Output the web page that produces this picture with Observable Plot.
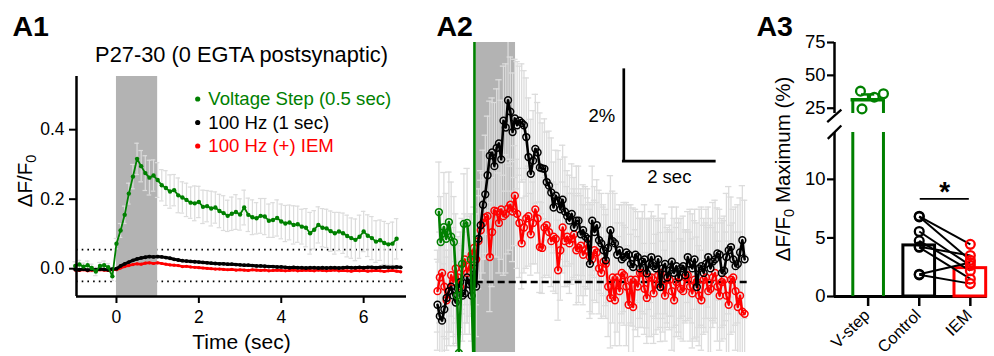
<!DOCTYPE html>
<html><head><meta charset="utf-8">
<script src="https://cdn.jsdelivr.net/npm/d3@7"></script>
<script src="https://cdn.jsdelivr.net/npm/@observablehq/plot@0.6"></script>
<style>
body{margin:0;background:#fff;}
#fig{position:relative;width:994px;height:356px;overflow:hidden;font-family:"Liberation Sans",Arial,Helvetica,sans-serif;}
#fig > div.p{position:absolute;top:0;}
#overlay{position:absolute;left:0;top:0;pointer-events:none;}
</style></head><body>
<div id="fig"><div class="p" id="a1" style="left:0px"></div><div class="p" id="a2" style="left:420px"></div><div class="p" id="a3" style="left:750px"></div><svg id="overlay" width="994" height="356"></svg></div>
<script>
const FONT = '"Liberation Sans", Arial, Helvetica, sans-serif';
const GREEN = "#008000", RED = "#ff0000", BLACK = "#000000", ERR = "#dcdcdc", STIM = "#b3b3b3";

// ---------------- A1 data (ΔF/F0 vs time, sampled every 0.1 s from -1.0 s) ----------------
const a1Start = -1.0, a1Step = 0.1;
const a1Green = [0.008,0.012,0.006,0.010,0.002,-0.008,0.008,0.010,0.004,-0.022,
  0.072,0.110,0.155,0.216,0.265,0.316,0.295,0.275,0.262,0.268,
  0.255,0.240,0.232,0.222,0.226,0.211,0.205,0.198,0.190,0.188,
  0.192,0.178,0.180,0.173,0.176,0.166,0.160,0.152,0.158,0.163,
  0.156,0.176,0.155,0.148,0.145,0.152,0.150,0.138,0.140,0.146,
  0.136,0.130,0.133,0.126,0.128,0.121,0.118,0.102,0.112,0.126,
  0.118,0.116,0.108,0.102,0.107,0.102,0.094,0.088,0.083,0.092,
  0.107,0.095,0.088,0.078,0.082,0.074,0.070,0.072,0.086];
const a1GreenErr = [0.012,0.012,0.010,0.012,0.011,0.012,0.010,0.012,0.011,0.012,
  0.015,0.020,0.025,0.030,0.035,0.045,0.045,0.050,0.050,0.045,
  0.050,0.045,0.050,0.048,0.045,0.050,0.045,0.048,0.045,0.050,
  0.045,0.048,0.045,0.050,0.045,0.048,0.050,0.045,0.048,0.050,
  0.045,0.050,0.048,0.050,0.045,0.050,0.052,0.048,0.050,0.052,
  0.050,0.052,0.050,0.055,0.052,0.050,0.055,0.060,0.055,0.052,
  0.055,0.055,0.058,0.060,0.055,0.058,0.060,0.058,0.060,0.062,
  0.058,0.060,0.062,0.060,0.058,0.062,0.060,0.062,0.058];
const a1Black = [-0.002,-0.003,-0.001,-0.004,-0.002,-0.003,-0.001,-0.002,-0.003,-0.001,
  0.000,0.008,0.014,0.019,0.024,0.028,0.031,0.033,0.035,0.034,0.035,
  0.034,0.032,0.030,0.027,0.025,0.023,0.022,0.021,0.020,0.019,
  0.018,0.017,0.016,0.015,0.014,0.014,0.013,0.013,0.012,0.011,
  0.010,0.010,0.009,0.008,0.008,0.007,0.006,0.006,0.005,0.005,
  0.004,0.003,0.004,0.003,0.003,0.002,0.003,0.003,0.002,0.003,
  0.002,0.003,0.003,0.002,0.003,0.004,0.003,0.003,0.004,0.003,
  0.004,0.004,0.003,0.004,0.005,0.004,0.004,0.005,0.004];
const a1Red = [-0.004,-0.005,-0.003,-0.006,-0.004,-0.005,-0.003,-0.004,-0.005,-0.003,
  -0.003,0.002,0.006,0.009,0.012,0.014,0.013,0.016,0.017,0.015,0.017,
  0.015,0.013,0.011,0.010,0.009,0.006,0.007,0.005,0.004,0.003,
  0.002,0.001,0.000,-0.001,-0.001,-0.002,-0.003,-0.002,-0.004,-0.003,
  -0.004,-0.005,-0.003,-0.004,-0.005,-0.004,-0.006,-0.005,-0.004,-0.005,
  -0.006,-0.005,-0.004,-0.006,-0.005,-0.004,-0.005,-0.006,-0.004,-0.005,
  -0.006,-0.005,-0.004,-0.006,-0.005,-0.006,-0.007,-0.005,-0.006,-0.005,
  -0.007,-0.006,-0.005,-0.006,-0.008,-0.006,-0.005,-0.007,-0.009];
const a1Stim = [0, 1];
const a1Dotted = [0.055, -0.0366];
const a1XTicks = [0, 2, 4, 6];
const a1YTicks = [0, 0.2, 0.4];
const a1Title = "P27-30 (0 EGTA postsynaptic)";
const a1XLabel = "Time (sec)";
const a1Legend = ["Voltage Step (0.5 sec)", "100 Hz (1 sec)", "100 Hz (+) IEM"];
const a1LegendColors = [GREEN, BLACK, RED];

// ---------------- A2 data (% ΔF/F0, every 0.05 s from -0.85 s) ----------------
const a2Start = -0.85, a2Step = 0.05;
const a2Black = [
  -0.5,-0.75,-0.85,-0.6,-0.35,-0.2,-0.1,-0.3,-0.45,-0.15,0.0,-0.3,-0.25,0.1,-0.05,-0.3,0.3,-0.1,
  0.95,1.25,1.7,1.93,2.35,2.78,2.85,2.55,2.95,3.05,2.7,3.55,3.4,4.0,3.75,3.3,3.6,3.45,3.55,3.5,
  3.45,3.19,2.75,2.38,2.67,2.93,2.85,2.52,2.5,2.49,2.2,2.12,1.97,1.64,1.9,1.79,1.6,1.81,1.55,1.45,
  1.35,1.5,1.2,1.35,1.35,1.05,1.14,1.0,0.95,0.4,1.35,1.1,1.25,0.92,0.85,0.7,0.48,0.75,1.14,0.9,
  0.85,0.6,0.7,0.5,0.55,0.65,0.6,0.4,0.33,0.6,0.55,0.3,0.45,0.5,0.19,0.4,0.55,0.35,0.3,0.5,
  -0.11,0.3,0.4,0.1,0.25,0.45,0.2,0.35,0.1,0.3,0.35,0.15,0.55,0.4,0.3,0.5,-0.11,0.3,0.35,0.2,
  0.4,0.55,0.3,0.45,0.5,0.63,0.6,0.2,0.25,0.55,0.7,0.77,0.5,0.35,0.4,0.65,0.92,0.5];
const a2BlackErr = [
  1.0,0.9,1.1,1.0,0.9,1.2,1.0,1.1,0.9,1.0,1.1,1.0,0.9,1.0,1.1,1.0,1.0,1.1,
  1.1,1.2,1.2,1.3,1.3,1.2,1.2,1.4,1.3,1.4,1.3,1.2,1.4,1.3,1.2,1.3,1.3,1.4,1.2,1.3,
  1.2,1.3,1.3,1.2,1.1,1.2,1.1,1.2,1.0,1.1,1.1,1.2,1.2,1.0,1.0,1.1,1.1,1.2,1.2,1.0,
  1.0,1.1,1.1,1.2,1.2,1.0,1.0,1.1,1.1,1.2,1.2,1.0,1.0,1.1,1.1,1.0,1.0,1.2,1.2,1.1,
  1.1,1.0,1.0,1.2,1.2,1.1,1.1,1.3,1.3,1.0,1.0,1.1,1.1,1.2,1.2,1.0,1.0,1.1,1.1,1.2,
  1.2,1.1,1.1,1.0,1.0,1.2,1.2,1.3,1.3,1.1,1.1,1.0,1.0,1.2,1.2,1.1,1.1,1.3,1.3,1.2,
  1.2,1.1,1.1,1.3,1.3,1.0,1.0,1.2,1.2,1.4,1.4,1.1,1.1,1.3,1.3,1.2,1.2,1.3];
const a2Red = [
  -0.2,0.1,0.2,-0.1,-0.4,-0.2,0.15,0.0,0.3,0.1,-0.1,0.3,0.5,0.2,0.35,0.6,0.75,0.5,
  0.9,1.14,1.3,1.42,1.45,0.55,1.1,1.57,1.55,1.3,1.6,1.45,1.5,1.62,1.7,1.55,1.9,1.5,1.3,0.85,
  1.2,1.4,1.45,1.05,1.3,1.6,1.4,0.77,0.75,1.2,1.25,1.1,0.9,1.0,0.95,0.26,0.7,1.2,0.9,1.0,
  0.85,0.95,1.05,0.7,0.75,0.8,0.6,0.7,0.85,0.55,0.5,0.7,0.65,0.3,0.2,0.45,0.4,-0.1,-0.35,0.1,
  -0.4,0.1,-0.2,0.2,0.15,-0.1,-0.5,0.05,-0.55,0.05,-0.1,0.2,0.2,-0.15,-0.35,0.1,0.1,-0.25,-0.05,0.15,
  0.2,-0.1,-0.3,0.1,0.05,-0.2,-0.4,0.0,0.1,-0.15,-0.2,0.1,0.15,-0.1,-0.25,0.05,0.0,-0.3,-0.4,0.05,
  0.1,-0.2,-0.15,0.1,0.2,-0.1,-0.3,0.0,0.05,-0.3,-0.5,0.05,0.1,-0.2,-0.55,-0.3,-0.65,-0.7];
const a2RedErr = [
  0.9,1.0,1.0,1.1,1.1,0.9,0.9,1.2,1.2,0.9,0.9,1.0,1.0,1.1,1.1,0.9,0.9,1.0,
  1.0,1.1,1.1,0.9,0.9,1.2,1.2,1.0,1.0,1.1,1.1,1.3,1.3,1.0,1.0,1.1,1.1,1.2,1.2,1.0,
  1.0,1.1,1.1,0.9,0.9,1.2,1.2,1.0,1.0,1.1,1.1,1.0,1.0,1.2,1.2,1.1,1.1,1.0,1.0,1.1,
  1.1,1.0,1.0,1.2,1.2,1.1,1.1,1.0,1.0,1.2,1.2,1.1,1.1,1.0,1.0,1.2,1.2,1.1,1.1,1.0,
  1.0,1.2,1.2,1.1,1.1,1.3,1.3,1.0,1.0,1.1,1.1,1.2,1.2,1.0,1.0,1.3,1.3,1.1,1.1,1.2,
  1.2,1.0,1.0,1.1,1.1,1.3,1.3,1.2,1.2,1.1,1.1,1.0,1.0,1.2,1.2,1.3,1.3,1.1,1.1,1.2,
  1.2,1.4,1.4,1.1,1.1,1.2,1.2,1.3,1.3,1.4,1.4,1.2,1.2,1.3,1.3,1.4,1.4,1.3];
const a2GreenT = [-0.82,-0.78,-0.71,-0.66,-0.60,-0.55,-0.49,-0.42,-0.38,-0.31,-0.27,-0.20,-0.12,-0.04,-0.03];
const a2GreenV = [1.54,0.88,1.21,0.95,1.32,1.0,0.88,-0.3,-1.56,0.4,1.28,1.3,0.5,-2.5,30];
const a2GreenErr = [1.1,1.0,1.2,1.0,1.1,1.2,1.0,1.1,1.2,1.0,1.1,1.2,1.0,0,0];
const a2Stim = [0, 0.865];
const a2ScaleY = 2, a2ScaleX = 2;          // 2 %, 2 sec
const a2ScaleLabels = ["2%", "2 sec"];

// ---------------- A3 data (ΔF/F0 maximum, %) ----------------
const a3Cats = ["V-step", "Control", "IEM"];
const a3Means = [31.5, 4.36, 2.42];
const a3VStep = [38.0, 24.5, 33.4, 36.0];
const a3VStepErrTop = 35.5;
const a3Control = [6.85, 6.8, 5.55, 4.75, 4.25, 4.2, 1.9, 1.85];
const a3IEM = [4.45, 3.1, 2.65, 2.2, 3.5, 1.5, 2.9, 1.1];
const a3Ticks = [0, 5, 10, 25, 50, 75];
const a3Sig = "*";
const a3SigLevel = 8.34;
const yLabMain = "ΔF/F", yLabSub = "0", a3YLabelRest = " Maximum (%)";

// =============== build ===============
const r3 = v => Math.round(v * 1000) / 1000;
const series = (arr, start, step, err) => arr.map((v, i) => ({t: r3(start + i * step), v, e: err ? err[i] : 0}));

// ---------- A1 ----------
const g1 = series(a1Green, a1Start, a1Step, a1GreenErr);
const k1 = series(a1Black, a1Start, a1Step);
const r1 = series(a1Red, a1Start, a1Step);
const X1 = [-0.97, 7.04], Y1 = [-0.08, 0.553];
const cap1 = 0.055;
const p1 = Plot.plot({
  width: 420, height: 356, marginLeft: 76, marginRight: 14, marginTop: 76, marginBottom: 60,
  x: {domain: X1, label: null},
  y: {domain: Y1, label: null},
  style: {fontFamily: FONT, fontSize: "17px", color: "#000", background: "transparent", overflow: "visible"},
  marks: [
    Plot.ruleY(a1Dotted, {stroke: BLACK, strokeWidth: 1.8, strokeDasharray: "1.6,4.1"}),
    Plot.rect([a1Stim], {x1: d => d[0], x2: d => d[1], y1: () => Y1[0], y2: () => Y1[1], fill: STIM}),
    Plot.ruleX(g1, {x: "t", y1: d => d.v - d.e, y2: d => d.v + d.e, stroke: ERR, strokeWidth: 1.2}),
    Plot.ruleY(g1, {y: d => d.v + d.e, x1: d => d.t - cap1, x2: d => d.t + cap1, stroke: ERR, strokeWidth: 1.2}),
    Plot.ruleY(g1, {y: d => d.v - d.e, x1: d => d.t - cap1, x2: d => d.t + cap1, stroke: ERR, strokeWidth: 1.2}),
    Plot.line(r1, {x: "t", y: "v", stroke: RED, strokeWidth: 2.6}),
    Plot.dot(r1, {x: "t", y: "v", r: 1.6, fill: RED}),
    Plot.line(k1, {x: "t", y: "v", stroke: BLACK, strokeWidth: 3}),
    Plot.dot(k1, {x: "t", y: "v", r: 1.9, fill: BLACK}),
    Plot.line(g1, {x: "t", y: "v", stroke: GREEN, strokeWidth: 1.8}),
    Plot.dot(g1, {x: "t", y: "v", r: 2.2, fill: GREEN}),
    Plot.ruleX([X1[0]], {stroke: BLACK, strokeWidth: 2.5}),
    Plot.ruleY([Y1[0]], {stroke: BLACK, strokeWidth: 2.5}),
    Plot.axisX({ticks: a1XTicks, tickSize: 7, tickPadding: 7, strokeWidth: 2, fontSize: 17.5, label: null}),
    Plot.axisY({ticks: a1YTicks, tickSize: 7, tickPadding: 5, strokeWidth: 2, fontSize: 17.5, tickFormat: d3.format(".1f"), label: null}),
    Plot.text([a1Title], {text: d => d, frameAnchor: "top", dy: -15, lineAnchor: "bottom", fontSize: 21.8}),
    Plot.text([a1XLabel], {text: d => d, frameAnchor: "bottom", dy: 52, lineAnchor: "bottom", fontSize: 21})
  ]
});
document.getElementById("a1").appendChild(p1);

// ---------- A2 ----------
const k2 = series(a2Black, a2Start, a2Step, a2BlackErr);
const rd2 = series(a2Red, a2Start, a2Step, a2RedErr);
const g2 = a2GreenT.map((t, i) => ({t, v: a2GreenV[i], e: a2GreenErr[i]}));
const X2 = [-1.224, 6.029], Y2 = [-1.55, 5.27];
const cap2 = 0.07;
const eb = (data) => [
  Plot.ruleX(data, {x: "t", y1: d => d.v - d.e, y2: d => d.v + d.e, stroke: ERR, strokeWidth: 1.3, clip: true}),
  Plot.ruleY(data, {y: d => d.v + d.e, x1: d => d.t - cap2, x2: d => d.t + cap2, stroke: ERR, strokeWidth: 1.3, clip: true}),
  Plot.ruleY(data, {y: d => d.v - d.e, x1: d => d.t - cap2, x2: d => d.t + cap2, stroke: ERR, strokeWidth: 1.3, clip: true})
];
const sbT = 3.244, sbV = 2.66;
const p2 = Plot.plot({
  width: 330, height: 356, marginLeft: 0, marginRight: 0, marginTop: 42, marginBottom: 4,
  x: {domain: X2, axis: null}, y: {domain: Y2, axis: null},
  style: {fontFamily: FONT, fontSize: "18px", color: "#000", background: "transparent", overflow: "visible"},
  marks: [
    Plot.rect([a2Stim], {x1: d => d[0], x2: d => d[1], y1: () => Y2[0], y2: () => Y2[1], fill: STIM}),
    ...eb(g2.filter(d => d.e > 0)), ...eb(rd2), ...eb(k2),
    Plot.ruleY([0], {x1: () => a2Stim[0], x2: () => 5.99, stroke: BLACK, strokeWidth: 2.5, strokeDasharray: "7,4"}),
    Plot.line(rd2, {x: "t", y: "v", stroke: RED, strokeWidth: 2.4, clip: true}),
    Plot.dot(rd2, {x: "t", y: "v", r: 3.4, stroke: RED, strokeWidth: 1.5, fill: "none", clip: true}),
    Plot.line(k2, {x: "t", y: "v", stroke: BLACK, strokeWidth: 2.6, clip: true}),
    Plot.dot(k2, {x: "t", y: "v", r: 3.4, stroke: BLACK, strokeWidth: 1.5, fill: "none", clip: true}),
    Plot.line(g2, {x: "t", y: "v", stroke: GREEN, strokeWidth: 2.6, clip: true}),
    Plot.dot(g2, {x: "t", y: "v", r: 3.4, stroke: GREEN, strokeWidth: 1.5, fill: "none", clip: true}),
    Plot.ruleX([sbT], {y1: () => sbV, y2: () => sbV + a2ScaleY, stroke: BLACK, strokeWidth: 2.7, strokeLinecap: "square"}),
    Plot.ruleY([sbV], {x1: () => sbT, x2: () => sbT + a2ScaleX, stroke: BLACK, strokeWidth: 2.7, strokeLinecap: "square"}),
    Plot.text([a2ScaleLabels[0]], {text: d => d, x: () => sbT, y: () => sbV + a2ScaleY / 2, dx: -22, lineAnchor: "middle", fontSize: 18.5}),
    Plot.text([a2ScaleLabels[1]], {text: d => d, x: () => sbT + a2ScaleX / 2, y: () => sbV, dy: 16, lineAnchor: "middle", fontSize: 18.5})
  ]
});
document.getElementById("a2").appendChild(p2);

// ---------- A3 ----------
const X3 = [-0.658, 2.33];
const bw = 0.3;
const vJit = [-0.15, -0.12, 0.12, 0.3];
const pairs = a3Control.map((c, i) => ({c, m: a3IEM[i]}));
const p3 = Plot.plot({
  width: 244, height: 356, marginLeft: 84, marginRight: 7.3, marginTop: 42, marginBottom: 60,
  x: {domain: X3, label: null},
  y: {type: "linear", domain: [0, 14, 21, 75], range: [296, 132, 113, 42], label: null},
  style: {fontFamily: FONT, fontSize: "18.5px", color: "#000", background: "transparent", overflow: "visible"},
  marks: [
    Plot.ruleX([[0, 14], [21, 75]], {x: () => X3[0], y1: d => d[0], y2: d => d[1], stroke: BLACK, strokeWidth: 2.5}),
    Plot.link([[-0.80, 17.8, -0.524, 24.0], [-0.79, 13.46, -0.524, 16.58]], {x1: d => d[0], y1: d => d[1], x2: d => d[2], y2: d => d[3], stroke: BLACK, strokeWidth: 2.3}),
    Plot.ruleY([0], {x1: () => X3[0], x2: () => X3[1], stroke: BLACK, strokeWidth: 3}),
    Plot.axisY({ticks: a3Ticks, tickSize: 7, tickPadding: 2, strokeWidth: 2.2, fontSize: 18.5, label: null}),
    Plot.axisX({ticks: [0, 1, 2], tickSize: 10, tickFormat: () => "", strokeWidth: 2.5, label: null}),
    Plot.ruleX([[-bw, 0, 14], [bw, 0, 14], [-bw, 21, a3Means[0]], [bw, 21, a3Means[0]]], {x: d => d[0], y1: d => d[1], y2: d => d[2], stroke: GREEN, strokeWidth: 3}),
    Plot.ruleY([a3Means[0]], {x1: () => -bw, x2: () => bw, stroke: GREEN, strokeWidth: 3.5, strokeLinecap: "square"}),
    Plot.ruleX([0], {y1: () => a3Means[0], y2: () => a3VStepErrTop, stroke: GREEN, strokeWidth: 2.5}),
    Plot.ruleY([a3VStepErrTop], {x1: () => -0.13, x2: () => 0.13, stroke: GREEN, strokeWidth: 2.5}),
    Plot.dot(a3VStep, {x: (d, i) => vJit[i], y: d => d, r: 4.4, stroke: GREEN, strokeWidth: 2.3, fill: "none"}),
    Plot.rect([1, 2], {x1: d => d - 0.31, x2: d => d + 0.31, y1: () => 0, y2: d => a3Means[d], stroke: d => d === 1 ? BLACK : RED, fill: "none", strokeWidth: 3}),
    Plot.link(pairs, {x1: () => 1, x2: () => 2, y1: "c", y2: "m", stroke: BLACK, strokeWidth: 2}),
    Plot.dot(a3Control, {x: () => 1, y: d => d, r: 4.4, stroke: BLACK, strokeWidth: 2.3, fill: "none"}),
    Plot.dot(a3IEM, {x: () => 2, y: d => d, r: 4.4, stroke: RED, strokeWidth: 2.3, fill: "none"}),
    Plot.ruleY([a3SigLevel], {x1: () => 1.02, x2: () => 1.98, stroke: BLACK, strokeWidth: 1.8}),
    Plot.text([a3Sig], {text: d => d, x: () => 1.5, y: () => a3SigLevel, dy: 2, lineAnchor: "bottom", fontSize: 28, fontWeight: "bold"}),
    Plot.text(a3Cats, {text: d => d, x: (d, i) => i, frameAnchor: "bottom", dy: 16, dx: -1, rotate: -45, textAnchor: "end", lineAnchor: "middle", fontSize: 16.5})
  ]
});
document.getElementById("a3").appendChild(p3);

// ---------- overlay: panel letters, legend, y labels ----------
const ov = d3.select("#overlay").style("font-family", FONT);
[["A1", 12.5], ["A2", 436.5], ["A3", 756.5]].forEach(([s, x]) =>
  ov.append("text").attr("x", x).attr("y", 36).attr("font-size", 28.5).attr("font-weight", "bold").text(s));
a1Legend.forEach((s, i) => {
  const cy = 99 + i * 23.5;
  ov.append("circle").attr("cx", 197.7).attr("cy", cy).attr("r", 2.6).attr("fill", a1LegendColors[i]);
  ov.append("text").attr("x", 208.3).attr("y", cy + 6.3).attr("font-size", 18.6).attr("fill", a1LegendColors[i]).text(s);
});
function yLabel(x, y, rest) {
  const t = ov.append("text").attr("transform", `translate(${x},${y}) rotate(-90)`).attr("text-anchor", "middle").attr("font-size", 20.5);
  t.append("tspan").text(yLabMain);
  t.append("tspan").attr("font-size", 14.5).attr("dy", 4).text(yLabSub);
  if (rest) t.append("tspan").attr("dy", -4).text(rest);
}
yLabel(32, 181, "");
yLabel(790, 169, a3YLabelRest);
</script>
</body></html>
